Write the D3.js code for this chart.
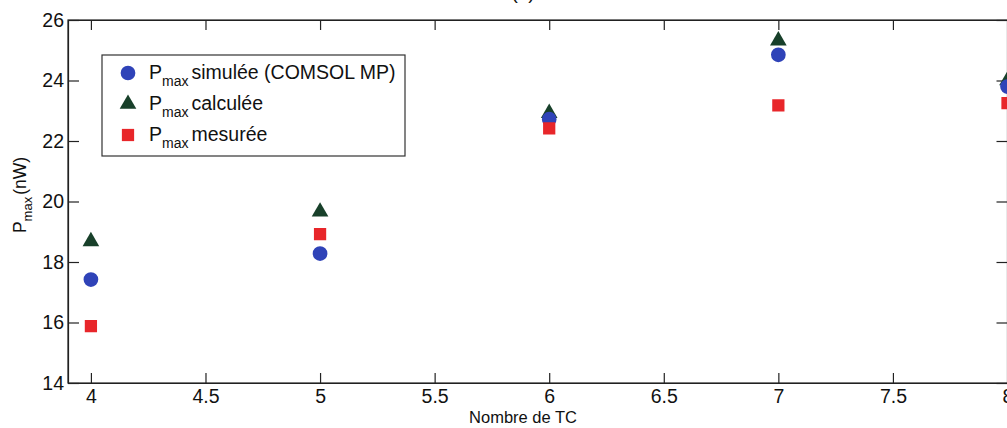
<!DOCTYPE html>
<html><head><meta charset="utf-8">
<script src="https://cdn.jsdelivr.net/npm/d3@7"></script>
<style>
html,body{margin:0;padding:0;background:#fff;}
svg{display:block;font-family:"Liberation Sans",Arial,sans-serif;}
</style></head>
<body>
<svg id="c" width="1007" height="428"></svg>
<script>
const nbTC = [4, 5, 6, 7, 8];
const pSimulee = [17.42, 18.28, 22.72, 24.85, 23.8];
const pCalculee = [18.68, 19.66, 22.92, 25.32, 24.0];
const pMesuree = [15.88, 18.92, 22.42, 23.18, 23.25];
const xTicks = [4, 4.5, 5, 5.5, 6, 6.5, 7, 7.5, 8];
const yTicks = [14, 16, 18, 20, 22, 24, 26];
const legendLabels = ["simulée (COMSOL MP)", "calculée", "mesurée"];

const svg = d3.select("#c");
const L = 68, R = 1007.5, T = 20, B = 383;
const x = d3.scaleLinear().domain([3.9, 8]).range([L, R]);
const y = d3.scaleLinear().domain([14, 26]).range([B, T]);
const axisCol = "#222";

// title (cut off at the top edge, as in the reference)
svg.append("text").attr("x", 523).attr("y", -1).attr("text-anchor", "middle")
  .attr("font-size", 19).attr("fill", "#111").text("(a)");

svg.append("defs").append("clipPath").attr("id", "pc")
  .append("rect").attr("x", L).attr("y", T).attr("width", R - L + 20).attr("height", B - T);

// axes
const gB = svg.append("g").attr("transform", `translate(0,${B})`)
  .call(d3.axisBottom(x).tickValues(xTicks).tickSizeInner(-10).tickSizeOuter(0).tickPadding(6).tickFormat(d3.format("")));
const gT = svg.append("g").attr("transform", `translate(0,${T})`)
  .call(d3.axisTop(x).tickValues(xTicks).tickSizeInner(-10).tickSizeOuter(0).tickFormat(""));
const gL = svg.append("g").attr("transform", `translate(${L},0)`)
  .call(d3.axisLeft(y).tickValues(yTicks).tickSizeInner(-11).tickSizeOuter(0).tickPadding(4));
const gR = svg.append("g").attr("transform", `translate(${R},0)`)
  .call(d3.axisRight(y).tickValues(yTicks).tickSizeInner(-11).tickSizeOuter(0).tickFormat(""));
[gB, gT, gL, gR].forEach(g => {
  g.selectAll("path.domain").attr("stroke", axisCol).attr("stroke-width", 1.2);
  g.selectAll("line").attr("stroke", axisCol).attr("stroke-width", 1.2);
  g.selectAll("text").attr("fill", "#111").attr("font-size", 19.5)
    .attr("font-family", '"Liberation Sans",Arial,sans-serif');
});
gB.selectAll("text").attr("dy", "0.72em");
svg.append("rect").attr("x", L).attr("y", T).attr("width", R - L).attr("height", B - T)
  .attr("fill", "none").attr("stroke", axisCol).attr("stroke-width", 1.2);

// axis labels
svg.append("text").attr("x", 523).attr("y", 423).attr("text-anchor", "middle")
  .attr("font-size", 16.5).attr("fill", "#111").text("Nombre de TC");
const yl = svg.append("text").attr("transform", "translate(26,195) rotate(-90)")
  .attr("text-anchor", "middle").attr("font-size", 17.5).attr("fill", "#111");
yl.append("tspan").text("P");
yl.append("tspan").attr("font-size", 13).attr("dy", 6).text("max");
yl.append("tspan").attr("dy", -6).attr("dx", 2).text("(nW)");

// markers
const cBlue = "#2f43b8", cGreen = "#18402a", cRed = "#e8262a";
const plot = svg.append("g").attr("clip-path", "url(#pc)");
const sym = (type, size) => d3.symbol().type(type).size(size);
const circ = sym(d3.symbolCircle, 170)();
const tri = sym(d3.symbolTriangle, 120)();
const sq = sym(d3.symbolSquare, 150)();

plot.selectAll(".tri").data(nbTC).join("path").attr("class", "tri")
  .attr("d", tri).attr("fill", cGreen)
  .attr("transform", (d, i) => `translate(${x(d)},${y(pCalculee[i])})`);
plot.selectAll(".circ").data(nbTC).join("path").attr("class", "circ")
  .attr("d", circ).attr("fill", cBlue)
  .attr("transform", (d, i) => `translate(${x(d)},${y(pSimulee[i])})`);
plot.selectAll(".sq").data(nbTC).join("path").attr("class", "sq")
  .attr("d", sq).attr("fill", cRed)
  .attr("transform", (d, i) => `translate(${x(d)},${y(pMesuree[i])})`);

// legend
const lg = svg.append("g");
lg.append("rect").attr("x", 102).attr("y", 55).attr("width", 303).attr("height", 101)
  .attr("fill", "#fff").attr("stroke", "#333").attr("stroke-width", 1.2);
const legendShapes = [[circ, cBlue], [tri, cGreen], [sq, cRed]];
const rowY = [73, 104, 135];
legendLabels.forEach((lab, i) => {
  lg.append("path").attr("d", legendShapes[i][0]).attr("fill", legendShapes[i][1])
    .attr("transform", `translate(128,${rowY[i]})`);
  const t = lg.append("text").attr("x", 149).attr("y", rowY[i] + 6)
    .attr("font-size", 19.5).attr("fill", "#111");
  t.append("tspan").text("P");
  t.append("tspan").attr("font-size", 14).attr("dy", 7).text("max");
  t.append("tspan").attr("dy", -7).attr("dx", 3).text(lab);
});
</script>
</body></html>
